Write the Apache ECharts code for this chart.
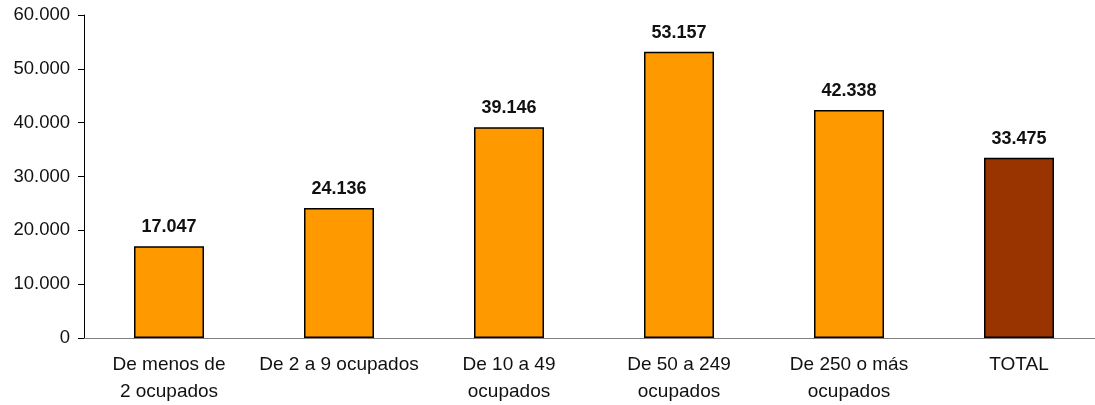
<!DOCTYPE html>
<html><head><meta charset="utf-8">
<script src="https://cdn.jsdelivr.net/npm/echarts@6/dist/echarts.min.js"></script>
<style>html,body{margin:0;padding:0;background:#fff;overflow:hidden}#c{width:1104px;height:405px}</style>
</head><body><div id="c"></div>
<script>
const categories = ["De menos de\n2 ocupados", "De 2 a 9 ocupados", "De 10 a 49\nocupados", "De 50 a 249\nocupados", "De 250 o más\nocupados", "TOTAL"];
const values = [17047, 24136, 39146, 53157, 42338, 33475];
const barColors = ["#FF9900", "#FF9900", "#FF9900", "#FF9900", "#FF9900", "#993300"];
const fmt = v => String(Math.round(v)).replace(/\B(?=(\d{3})+(?!\d))/g, ".");
const chart = echarts.init(document.getElementById('c'), null, {renderer: 'canvas'});
chart.setOption({
  animation: false,
  grid: {left: 84, right: 0, top: 15, height: 329, containLabel: false},
  xAxis: {
    type: 'category', data: categories,
    axisLine: {lineStyle: {color: '#808080', width: 1}},
    axisTick: {show: false},
    axisLabel: {color: '#111', fontFamily: 'Liberation Sans, Arial', fontSize: 19, lineHeight: 27, margin: 13, interval: 0}
  },
  yAxis: {
    type: 'value', min: 0, max: 60000, interval: 10000,
    axisLine: {show: true, lineStyle: {color: '#000', width: 1}},
    axisTick: {show: true, length: 6, lineStyle: {color: '#000'}},
    splitLine: {show: false},
    axisLabel: {color: '#111', fontFamily: 'Liberation Sans, Arial', fontSize: 18.5, margin: 14, formatter: fmt}
  },
  series: [{
    type: 'bar', barWidth: 70,
    data: values.map((v, i) => ({value: v, itemStyle: {color: barColors[i]}})),
    itemStyle: {borderColor: '#000', borderWidth: 1.5},
    label: {show: true, position: 'top', distance: 10, color: '#111', fontWeight: 'bold', fontFamily: 'Liberation Sans, Arial', fontSize: 18, formatter: p => fmt(p.value)}
  }]
});
</script></body></html>
